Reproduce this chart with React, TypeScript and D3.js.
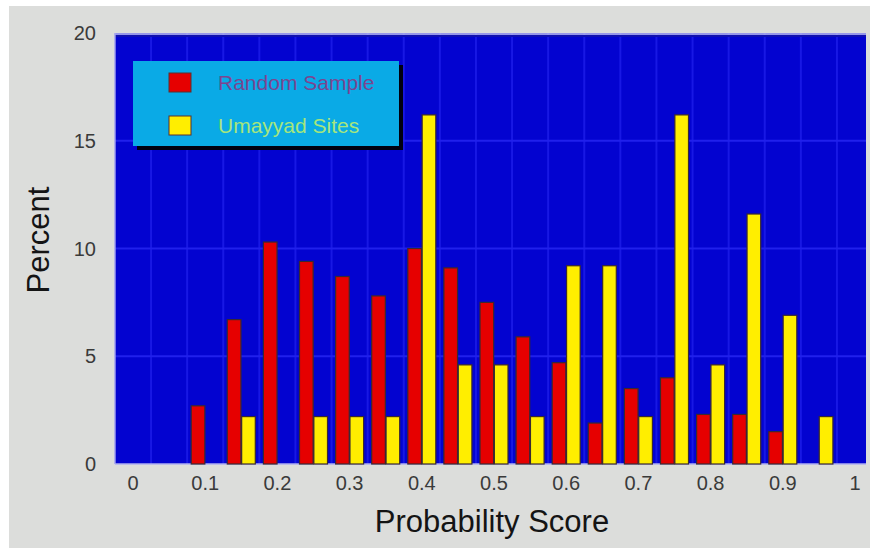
import React from "react";
import * as d3 from "d3";

const binCenters = [0.1, 0.15, 0.2, 0.25, 0.3, 0.35, 0.4, 0.45, 0.5, 0.55, 0.6, 0.65, 0.7, 0.75, 0.8, 0.85, 0.9, 0.95];
const randomSample = [2.7, 6.7, 10.3, 9.4, 8.7, 7.8, 10.0, 9.1, 7.5, 5.9, 4.7, 1.9, 3.5, 4.0, 2.3, 2.3, 1.5, 0];
const umayyadSites = [0, 2.2, 0, 2.2, 2.2, 2.2, 16.2, 4.6, 4.6, 2.2, 9.2, 9.2, 2.2, 16.2, 4.6, 11.6, 6.9, 2.2];
const seriesNames = ["Random Sample", "Umayyad Sites"];
const seriesColors = ["#e60000", "#ffee00"];
const legendTextColors = ["#7c4590", "#a6e67c"];
const xTicks = [0, 0.1, 0.2, 0.3, 0.4, 0.5, 0.6, 0.7, 0.8, 0.9, 1];
const xTickLabels = ["0", "0.1", "0.2", "0.3", "0.4", "0.5", "0.6", "0.7", "0.8", "0.9", "1"];
const yTicks = [0, 5, 10, 15, 20];
const xGrid = [0.025, 0.075, 0.125, 0.175, 0.225, 0.275, 0.325, 0.375, 0.425, 0.475, 0.525, 0.575, 0.625, 0.675, 0.725, 0.775, 0.825, 0.875, 0.925, 0.975];
const yGrid = [5, 10, 15];

export default function App() {
  const W = 870, H = 548;
  const x = d3.scaleLinear().domain([0, 1]).range([133, 855]);
  const y = d3.scaleLinear().domain([0, 20]).range([464, 33]);
  const sub = d3.scaleBand().domain(seriesNames).range([-14, 14]).paddingInner(0.05);
  const plotL = x(-0.025), plotR = 866, plotT = y(20), plotB = y(0);
  const font = "'Liberation Sans', Arial, Helvetica, sans-serif";
  const series = [randomSample, umayyadSites];

  return (
    <svg width={W} height={H} style={{ position: "absolute", left: 0, top: 0, display: "block" }} fontFamily={font}>
      <rect x={0} y={0} width={W} height={H} fill="#ffffff" />
      <rect x={9} y={6} width={W - 9} height={H - 6} fill="#dcdddb" />
      {/* plot area */}
      <rect x={plotL} y={plotT} width={plotR - plotL} height={plotB - plotT} fill="#0303d0" />
      {xGrid.map((g) => (
        <line key={"gx" + g} x1={x(g)} x2={x(g)} y1={plotT} y2={plotB} stroke="#1818e4" strokeWidth={2} />
      ))}
      {yGrid.map((g) => (
        <line key={"gy" + g} x1={plotL} x2={plotR} y1={y(g)} y2={y(g)} stroke="#2020ec" strokeWidth={2} />
      ))}
      <line x1={plotL} x2={plotR} y1={plotT + 1} y2={plotT + 1} stroke="#c8c8f4" strokeWidth={1.5} />
      <line x1={plotL} x2={plotR} y1={plotT + 3} y2={plotT + 3} stroke="#1010b0" strokeWidth={2} />
      <line x1={plotL} x2={plotL} y1={plotT} y2={plotB} stroke="#a8a8f0" strokeWidth={1.5} />
      <line x1={plotL} x2={plotR} y1={plotB} y2={plotB} stroke="#b0b0f0" strokeWidth={1.5} />
      {/* bars */}
      {binCenters.map((c, i) => (
        <g key={"b" + i}>
          {series.map((s, j) =>
            s[i] > 0 ? (
              <rect
                key={j}
                x={x(c) + (sub(seriesNames[j]) as number)}
                y={y(s[i])}
                width={sub.bandwidth()}
                height={y(0) - y(s[i])}
                fill={seriesColors[j]}
                stroke="#3a2a30"
                strokeWidth={1.2}
              />
            ) : null
          )}
        </g>
      ))}
      {/* y tick labels */}
      {yTicks.map((t) => (
        <text key={"yt" + t} x={96} y={y(t) + 7} textAnchor="end" fontSize={20} fill="#3a3a3a">
          {t}
        </text>
      ))}
      {/* x tick labels */}
      {xTicks.map((t, i) => (
        <text key={"xt" + t} x={x(t)} y={490} textAnchor="middle" fontSize={20} fill="#3a3a3a">
          {xTickLabels[i]}
        </text>
      ))}
      <text x={492} y={532} textAnchor="middle" fontSize={31} fill="#141414">
        Probability Score
      </text>
      <text transform="translate(49,240) rotate(-90)" textAnchor="middle" fontSize={31} fill="#141414">
        Percent
      </text>
      {/* legend */}
      <rect x={137} y={65} width={266} height={85} fill="#000010" />
      <rect x={133} y={61} width={266} height={85} fill="#0aaae6" />
      {seriesNames.map((n, j) => (
        <g key={"lg" + j}>
          <rect x={169} y={j === 0 ? 73 : 116} width={22} height={19} fill={seriesColors[j]} stroke="#5a3030" strokeWidth={1} />
          <text x={218} y={j === 0 ? 90 : 133} fontSize={21} fill={legendTextColors[j]}>
            {n}
          </text>
        </g>
      ))}
    </svg>
  );
}
